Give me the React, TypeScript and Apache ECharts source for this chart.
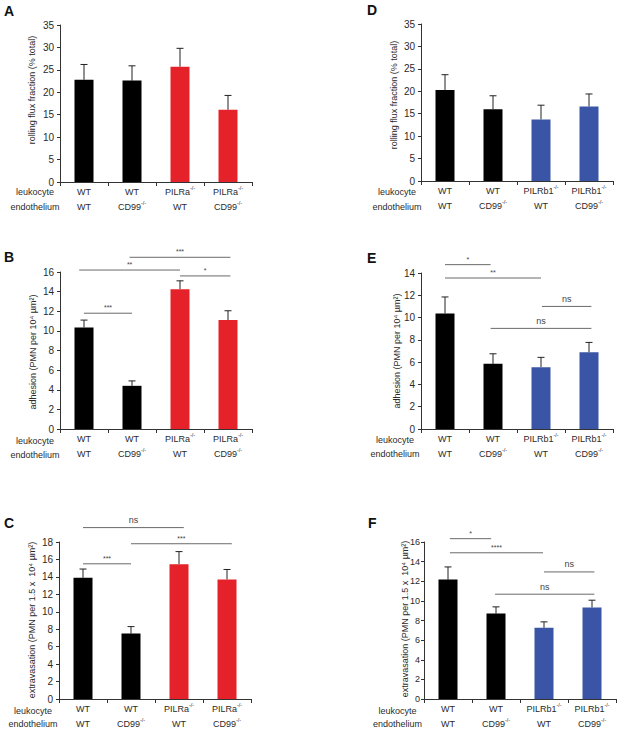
import React, { useEffect, useRef } from "react";
import * as echarts from "echarts";

// ---------- data ----------
const categoriesRed = ["WT\nWT", "WT\nCD99{s|-/-}", "PILRa{s|-/-}\nWT", "PILRa{s|-/-}\nCD99{s|-/-}"];
const categoriesBlue = ["WT\nWT", "WT\nCD99{s|-/-}", "PILRb1{s|-/-}\nWT", "PILRb1{s|-/-}\nCD99{s|-/-}"];

const rollingA = [22.8, 22.6, 25.7, 16.1];
const rollingAErr = [26.2, 25.9, 29.8, 19.3];
const adhesionB = [10.35, 4.4, 14.25, 11.1];
const adhesionBErr = [11.1, 4.9, 15.1, 12.05];
const extravasationC = [13.9, 7.5, 15.45, 13.7];
const extravasationCErr = [14.9, 8.3, 16.9, 14.85];
const rollingD = [20.3, 16.0, 13.7, 16.6];
const rollingDErr = [23.7, 19.0, 16.9, 19.4];
const adhesionE = [10.37, 5.85, 5.55, 6.88];
const adhesionEErr = [11.85, 6.75, 6.43, 7.77];
const extravasationF = [12.17, 8.71, 7.25, 9.32];
const extravasationFErr = [13.46, 9.39, 7.86, 10.07];

// significance brackets: [from (category index), to (category index), y value, label]
const sigB: [number, number, number, string][] = [
  [-0.1, 2.0, 16.2, "**"],
  [0.95, 3.05, 17.5, "***"],
  [2.0, 3.05, 15.6, "*"],
  [0.0, 1.0, 11.8, "***"],
];
const sigC: [number, number, number, string][] = [
  [0.0, 2.1, 19.65, "ns"],
  [1.0, 3.1, 17.8, "***"],
  [0.0, 1.0, 15.5, "***"],
];
const sigE: [number, number, number, string][] = [
  [0.0, 0.95, 14.75, "*"],
  [0.0, 2.0, 13.55, "**"],
  [2.02, 3.05, 11.0, "ns"],
  [0.95, 3.05, 9.03, "ns"],
];
const sigF: [number, number, number, string][] = [
  [0.04, 0.9, 16.34, "*"],
  [0.04, 1.98, 14.9, "****"],
  [2.0, 3.05, 12.95, "ns"],
  [0.98, 3.05, 10.68, "ns"],
];

const yMaxes = [35, 16, 18, 35, 14, 16];
const yIntervals = [5, 2, 2, 5, 2, 2];
const panelLetters = ["A", "B", "C", "D", "E", "F"];
const yTitles = [
  "rolling flux fraction (% total)",
  "adhesion (PMN per 10⁴ µm²)",
  "extravasation (PMN per 1.5 x  10⁴ µm²)",
  "rolling flux fraction (% total)",
  "adhesion (PMN per 10⁴ µm²)",
  "extravasation (PMN per 1.5 x  10⁴ µm²)",
];
const rowLabels = ["leukocyte", "endothelium"];

// ---------- styling / layout ----------
const BLACK = "#000000";
const RED = "#E5222A";
const BLUE = "#3A55A5";
const FONT = "Liberation Sans, Arial, sans-serif";
const TEXT = "#2a2a2a";

const grids = [
  { left: 60, top: 25, width: 192, height: 157 },
  { left: 60, top: 272, width: 192, height: 157 },
  { left: 59, top: 542, width: 192, height: 157 },
  { left: 421, top: 24, width: 192, height: 157 },
  { left: 421, top: 273, width: 192, height: 156 },
  { left: 424, top: 542, width: 192, height: 157 },
];
const tickFont = [10, 10, 10, 10, 10, 9];
const tickMargin = [6, 6, 6, 6, 6, 4];
const letterPos = [
  [4, 11], [4, 257], [4, 523], [367, 10], [367, 258], [368, 523],
];
const titlePos = [
  [32, 90], [33, 352], [32, 620], [394, 95], [397, 351], [405, 619],
];
const rowLabelPos = [
  [35, 192, 207], [35, 441, 455], [33, 711, 724],
  [397, 192, 207], [395, 440, 454], [397.5, 711, 724],
];

export default function App() {
  const ref = useRef<HTMLDivElement>(null);

  useEffect(() => {
    if (!ref.current) return;
    const chart = echarts.init(ref.current, undefined, { renderer: "svg" });

    const values = [rollingA, adhesionB, extravasationC, rollingD, adhesionE, extravasationF];
    const errs = [rollingAErr, adhesionBErr, extravasationCErr, rollingDErr, adhesionEErr, extravasationFErr];
    const sigs: ([number, number, number, string][] | null)[] = [null, sigB, sigC, null, sigE, sigF];

    const xAxis: any[] = [];
    const yAxis: any[] = [];
    const series: any[] = [];
    const graphic: any[] = [];

    for (let i = 0; i < 6; i++) {
      const isRight = i >= 3;
      const cats = isRight ? categoriesBlue : categoriesRed;
      const accent = isRight ? BLUE : RED;
      xAxis.push({
        type: "category",
        gridIndex: i,
        data: cats,
        axisLine: { lineStyle: { color: "#333", width: 1 } },
        axisTick: { show: true, length: 4, lineStyle: { color: "#333" } },
        axisLabel: {
          interval: 0,
          margin: 3,
          fontSize: 9,
          lineHeight: 14.5,
          fontFamily: FONT,
          color: TEXT,
          rich: {
            s: { fontSize: 5.5, lineHeight: 8, verticalAlign: "top", fontFamily: FONT, color: TEXT },
          },
        },
      });
      yAxis.push({
        type: "value",
        gridIndex: i,
        min: 0,
        max: yMaxes[i],
        interval: yIntervals[i],
        axisLine: { show: true, lineStyle: { color: "#333", width: 1 } },
        axisTick: { show: true, length: 3, lineStyle: { color: "#333" } },
        splitLine: { show: false },
        axisLabel: { fontSize: tickFont[i], fontFamily: FONT, color: TEXT, margin: tickMargin[i] },
      });

      series.push({
        type: "bar",
        xAxisIndex: i,
        yAxisIndex: i,
        barWidth: 19,
        data: values[i].map((v, k) => ({
          value: v,
          itemStyle: { color: k < 2 ? BLACK : accent },
        })),
      });

      const errData = values[i].map((v, k) => [k, v, errs[i][k]]);
      series.push({
        type: "custom",
        xAxisIndex: i,
        yAxisIndex: i,
        data: errData,
        renderItem: (params: any, api: any) => {
          const k = api.value(0);
          const p0 = api.coord([k, api.value(1)]);
          const p1 = api.coord([k, api.value(2)]);
          const cap = 3.5;
          return {
            type: "group",
            children: [
              {
                type: "line",
                shape: { x1: p0[0], y1: p0[1], x2: p1[0], y2: p1[1] },
                style: { stroke: "#222", lineWidth: 1 },
              },
              {
                type: "line",
                shape: { x1: p1[0] - cap, y1: p1[1], x2: p1[0] + cap, y2: p1[1] },
                style: { stroke: "#222", lineWidth: 1 },
              },
            ],
          };
        },
      });

      const sig = sigs[i];
      if (sig) {
        series.push({
          type: "custom",
          xAxisIndex: i,
          yAxisIndex: i,
          clip: false,
          data: sig.map((s) => [0, s[2]]),
          renderItem: (params: any, api: any) => {
            const s = sig[params.dataIndex];
            const base = api.coord([0, s[2]]);
            const bw = api.size([1, 0])[0];
            const x1 = base[0] + s[0] * bw;
            const x2 = base[0] + s[1] * bw;
            const isNs = s[3] === "ns";
            return {
              type: "group",
              children: [
                {
                  type: "line",
                  shape: { x1, y1: base[1], x2, y2: base[1] },
                  style: { stroke: "#6a6a6a", lineWidth: 1 },
                },
                {
                  type: "text",
                  x: (x1 + x2) / 2,
                  y: base[1] - (isNs ? 3 : 2),
                  style: {
                    text: s[3],
                    fontSize: isNs ? 9 : 7,
                    fontFamily: FONT,
                    fill: "#444",
                    align: "center",
                    verticalAlign: "bottom",
                  },
                },
              ],
            };
          },
        });
      }

      graphic.push({
        type: "text",
        left: letterPos[i][0],
        top: letterPos[i][1] - 7,
        style: {
          text: panelLetters[i],
          fontSize: 14,
          fontWeight: "bold",
          fontFamily: FONT,
          fill: "#111",
        },
      });
      graphic.push({
        type: "text",
        x: titlePos[i][0],
        y: titlePos[i][1],
        rotation: Math.PI / 2,
        style: {
          text: yTitles[i],
          fontSize: 9,
          fontFamily: FONT,
          fill: TEXT,
          align: "center",
          verticalAlign: "middle",
        },
      });
      rowLabels.forEach((lab, r) => {
        graphic.push({
          type: "text",
          x: rowLabelPos[i][0],
          y: rowLabelPos[i][1 + r],
          style: {
            text: lab,
            fontSize: 9,
            fontFamily: FONT,
            fill: TEXT,
            align: "center",
            verticalAlign: "middle",
          },
        });
      });
    }

    chart.setOption({
      animation: false,
      backgroundColor: "#ffffff",
      grid: grids.map((g) => ({ ...g, containLabel: false })),
      xAxis,
      yAxis,
      series,
      graphic,
    });

    return () => chart.dispose();
  }, []);

  return (
    <div
      ref={ref}
      style={{ position: "absolute", left: 0, top: 0, width: 617, height: 731 }}
    />
  );
}
